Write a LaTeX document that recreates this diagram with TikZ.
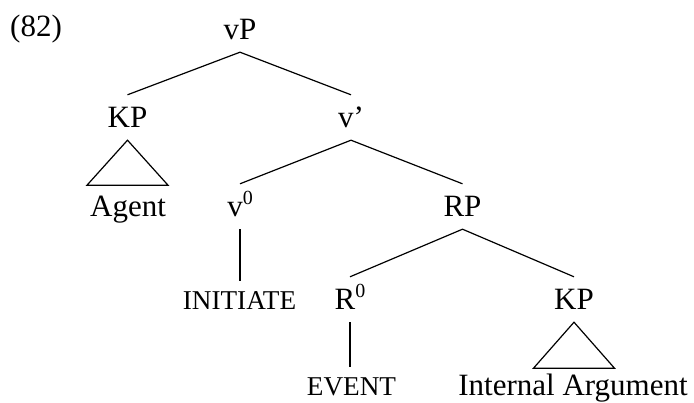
\documentclass[tikz,border=0pt]{standalone}
\usepackage{fontspec}
\setmainfont{Liberation Serif}
\newcommand{\supz}{\raisebox{0.4em}{\fontsize{20}{20}\selectfont 0}}
\begin{document}
\begin{tikzpicture}[x=1pt,y=-1pt,
  lab/.style={anchor=base,inner xsep=0pt,inner ysep=12pt,text height=21pt,text depth=0pt,font=\fontsize{31}{36}\selectfont},
  sc/.style={anchor=base,inner xsep=0pt,inner ysep=12pt,text height=17pt,text depth=0pt,font=\fontsize{27.2}{30}\selectfont},
  br/.style={line width=1.2pt},
  tri/.style={line width=1.2pt,line join=miter}]
\useasboundingbox (0,0) rectangle (694,403);
\node[lab,anchor=base west] (num) at (10,37) {(82)};
\node[lab] (vP) at (240,40) {vP};
\node[lab] (kp1) at (127.5,128) {KP};
\node[lab] (vbar) at (351,128) {v’};
\node[lab] (agent) at (128,217) {Agent};
\node[lab] (v0) at (240,217) {v\supz};
\node[lab] (rp) at (462.5,217) {RP};
\node[sc] (init) at (239.5,310) {INITIATE};
\node[lab] (r0) at (350,310) {R\supz};
\node[lab] (kp2) at (574,310) {KP};
\node[sc] (event) at (351.5,396) {EVENT};
\node[lab] (ia) at (573,396) {Internal Argument};
\draw[br] (kp1.north) -- (vP.south) -- (vbar.north);
\draw[br] (v0.north) -- (vbar.south) -- (rp.north);
\draw[br] (r0.north) -- (rp.south) -- (kp2.north);
\draw[br] (v0.south) -- (v0.south |- init.north);
\draw[br] (r0.south) -- (r0.south |- event.north);
\draw[tri] (kp1.south) -- ++(-40.5,45) -- ++(81,0) -- cycle;
\draw[tri] (kp2.south) -- ++(-40.5,46) -- ++(81,0) -- cycle;
\end{tikzpicture}
\end{document}
